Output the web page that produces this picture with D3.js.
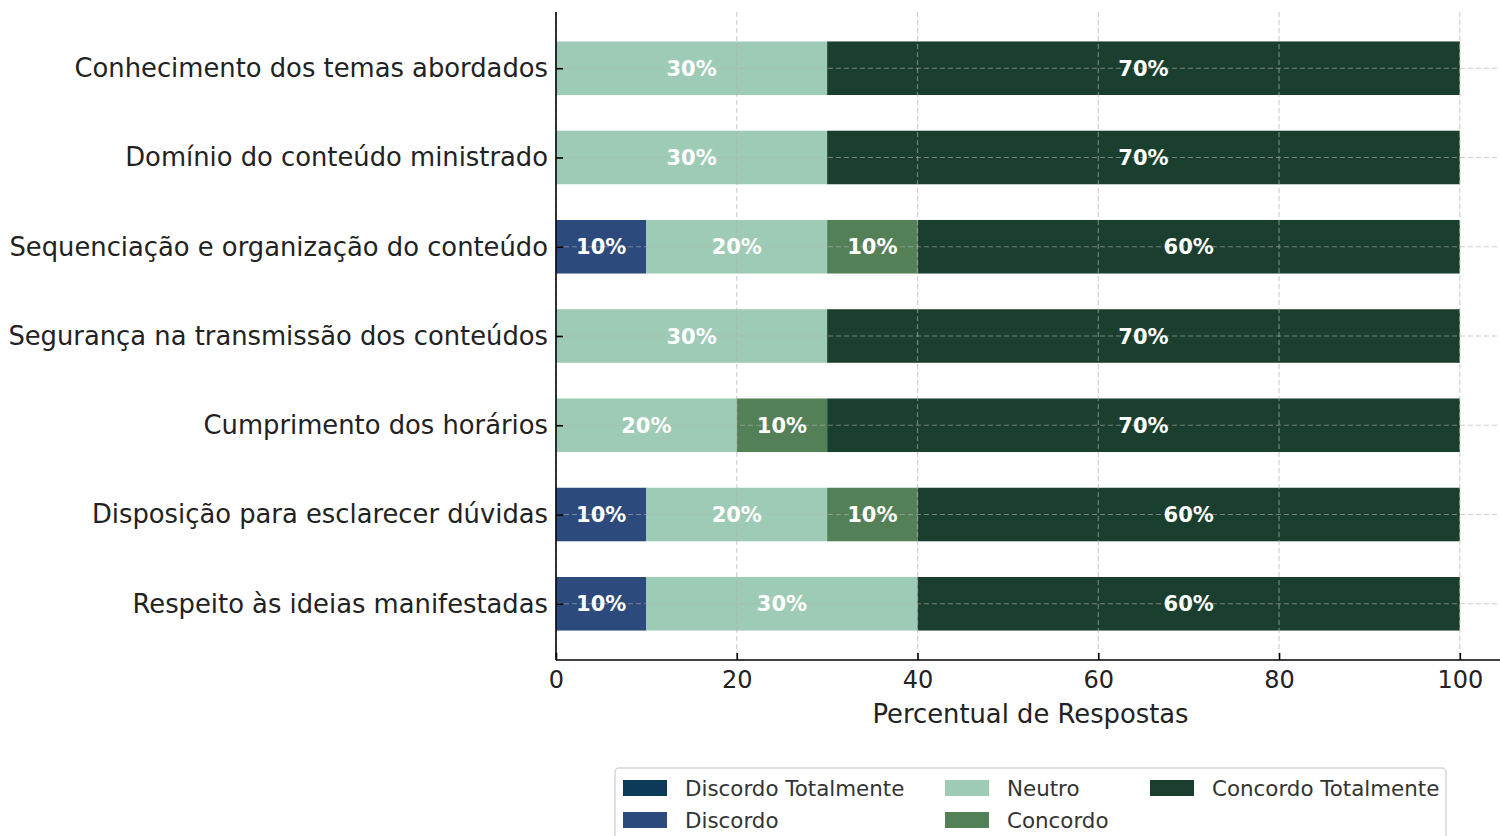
<!DOCTYPE html>
<html>
<head>
<meta charset="utf-8">
<script src="https://cdn.jsdelivr.net/npm/d3@7"></script>
<style>
  body { margin: 0; background: #fff; }
  text { font-family: "DejaVu Sans", sans-serif; }
</style>
</head>
<body>
<div id="chart"></div>
<script>
var width = 1500,
  height = 836;

// categories, top to bottom
var categories = [
  "Conhecimento dos temas abordados",
  "Domínio do conteúdo ministrado",
  "Sequenciação e organização do conteúdo",
  "Segurança na transmissão dos conteúdos",
  "Cumprimento dos horários",
  "Disposição para esclarecer dúvidas",
  "Respeito às ideias manifestadas"
];

var seriesNames = ["Discordo Totalmente", "Discordo", "Neutro", "Concordo", "Concordo Totalmente"];
var seriesColors = ["#0d3a58", "#2d4a7c", "#9ecbb6", "#548057", "#1a3f2f"];

// percent per series, same order as categories
var discordoTotalmente = [0, 0, 0, 0, 0, 0, 0];
var discordo = [0, 0, 10, 0, 0, 10, 10];
var neutro = [30, 30, 20, 30, 20, 20, 30];
var concordo = [0, 0, 10, 0, 10, 10, 0];
var concordoTotalmente = [70, 70, 60, 70, 70, 60, 60];

var xTicks = [0, 20, 40, 60, 80, 100];

var seriesValues = [discordoTotalmente, discordo, neutro, concordo, concordoTotalmente];

var svg = d3.select("#chart").append("svg")
  .attr("width", width)
  .attr("height", height);

var plotLeft = 556, plotTop = 12, plotBottom = 660;

// matplotlib-like limits: x 0..105, y -0.63..6.63
var x = d3.scaleLinear().domain([0, 105]).range([plotLeft, plotLeft + 949]);
var y = d3.scaleLinear().domain([-0.63, 6.63]).range([plotTop, plotBottom]);
var barH = y(0.6) - y(0);

// stack rows
var rows = categories.map(function(c, i) {
  var row = { cat: c, idx: i };
  seriesNames.forEach(function(s, k) { row[s] = seriesValues[k][i]; });
  return row;
});
var stacked = d3.stack().keys(seriesNames)(rows);

var bars = svg.append("g");
stacked.forEach(function(layer, k) {
  bars.selectAll(null)
    .data(layer.filter(function(d) { return d[1] - d[0] > 0; }))
    .enter().append("rect")
    .attr("x", function(d) { return x(d[0]); })
    .attr("width", function(d) { return x(d[1]) - x(d[0]); })
    .attr("y", function(d) { return y(d.data.idx) - barH / 2; })
    .attr("height", barH)
    .attr("fill", seriesColors[k]);
});

// grid on top of bars
var grid = svg.append("g")
  .attr("stroke", "#b0b0b0")
  .attr("stroke-opacity", 0.6)
  .attr("stroke-dasharray", "5,3")
  .attr("stroke-width", 1.2);
grid.selectAll(null).data(xTicks).enter().append("line")
  .attr("x1", function(d) { return x(d); })
  .attr("x2", function(d) { return x(d); })
  .attr("y1", plotTop).attr("y2", plotBottom);
grid.selectAll(null).data(categories).enter().append("line")
  .attr("x1", plotLeft).attr("x2", width)
  .attr("y1", function(d, i) { return y(i); })
  .attr("y2", function(d, i) { return y(i); });

// value labels
stacked.forEach(function(layer) {
  svg.append("g").selectAll(null)
    .data(layer.filter(function(d) { return d[1] - d[0] > 0; }))
    .enter().append("text")
    .attr("x", function(d) { return x((d[0] + d[1]) / 2); })
    .attr("y", function(d) { return y(d.data.idx); })
    .attr("dy", "0.36em")
    .attr("text-anchor", "middle")
    .attr("fill", "#fff")
    .attr("font-weight", "bold")
    .attr("font-size", "21px")
    .text(function(d) { return Math.round(d[1] - d[0]) + "%"; });
});

// axes, ticks point inward
var xAxis = svg.append("g")
  .attr("transform", "translate(0," + plotBottom + ")")
  .call(d3.axisBottom(x).tickValues(xTicks).tickSizeInner(-7).tickSizeOuter(0).tickPadding(11).tickFormat(d3.format("d")));
xAxis.select(".domain").attr("d", "M" + plotLeft + ",0H" + width).attr("stroke-width", 1.6);
xAxis.selectAll(".tick line").attr("stroke-width", 1.6);
xAxis.selectAll("text").attr("font-size", "24px").attr("fill", "#222");

var yAxis = svg.append("g")
  .attr("transform", "translate(" + plotLeft + ",0)")
  .call(d3.axisLeft(y).tickValues(d3.range(categories.length)).tickSizeInner(-7).tickSizeOuter(0).tickPadding(8)
    .tickFormat(function(i) { return categories[i]; }));
yAxis.select(".domain").attr("d", "M0," + plotTop + "V" + plotBottom).attr("stroke-width", 1.6);
yAxis.selectAll(".tick line").attr("stroke-width", 1.6);
yAxis.selectAll("text").attr("font-size", "25.8px").attr("fill", "#222");

svg.append("text")
  .attr("x", x(52.5)).attr("y", 723)
  .attr("text-anchor", "middle")
  .attr("font-size", "25.8px")
  .attr("fill", "#222")
  .text("Percentual de Respostas");

// legend, 3 columns filled column-wise
var legend = svg.append("g").attr("transform", "translate(615,768)");
legend.append("rect")
  .attr("x", 0).attr("y", 0).attr("width", 831).attr("height", 90)
  .attr("rx", 4).attr("fill", "#fff").attr("stroke", "#d6d6d6").attr("stroke-width", 1.5);
var colX = [8, 330, 535];
seriesNames.forEach(function(s, k) {
  var col = Math.floor(k / 2), row = k % 2;
  var g = legend.append("g").attr("transform", "translate(" + colX[col] + "," + (20 + row * 32) + ")");
  g.append("rect").attr("x", 0).attr("y", -8).attr("width", 44).attr("height", 16).attr("fill", seriesColors[k]);
  g.append("text").attr("x", 62).attr("y", 0).attr("dy", "0.36em")
    .attr("font-size", "21.4px").attr("fill", "#333").text(s);
});
</script>
</body>
</html>
